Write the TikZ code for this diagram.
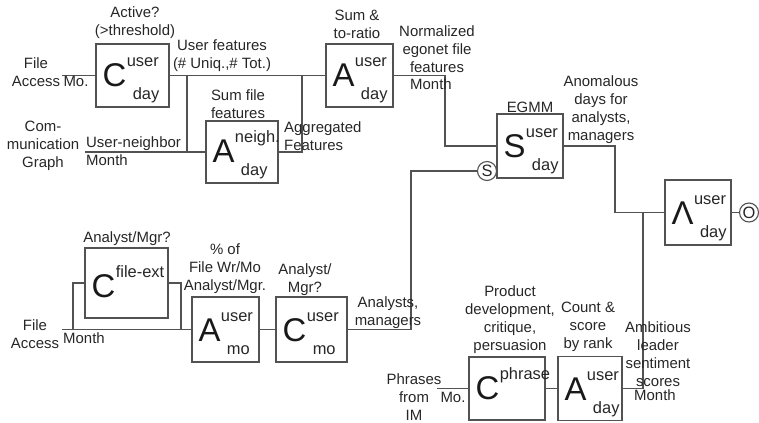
\documentclass[tikz,border=0pt]{standalone}
\usepackage{fontspec}
\setmainfont{Liberation Sans}
\newcommand{\bxt}[4]{%
  \node[bigl, anchor=base west] (#1L) at ([xshift=7bp,yshift=21bp]#1.south west) {#2};
  \node[sml, anchor=base west] at ([yshift=20bp]#1L.base east) {#3};
  \node[sml, anchor=base west] at ([xshift=6bp,yshift=-13bp]#1L.base east) {#4};}
\begin{document}
\begin{tikzpicture}[x=1bp,y=-1bp,
  ln/.style={draw=black!68, line width=1.1bp},
  blk/.style={draw=black!68, line width=1.1bp, inner sep=0pt},
  bigl/.style={font=\fontsize{33}{35}\selectfont, inner sep=0pt, text=black!90},
  sml/.style={font=\fontsize{16.5}{18}\selectfont, inner sep=0pt, text=black!85},
  lbl/.style={font=\fontsize{15}{18}\selectfont, align=center, inner sep=0pt, text=black!85},
  circ/.style={circle, draw=black!68, line width=1.1bp, inner sep=0pt, minimum size=19bp, font=\fontsize{16.5}{17}\selectfont, text=black!85}]
\useasboundingbox (0,0) rectangle (759,422);

% boxes
\node[blk, minimum width=73bp, minimum height=63bp] (c1) at (132.5,75.5) {};
\node[blk, minimum width=72bp, minimum height=62bp] (an) at (242,152) {};
\node[blk, minimum width=67bp, minimum height=63bp] (au) at (359.5,75.5) {};
\node[blk, minimum width=66bp, minimum height=64bp] (s) at (530,146) {};
\node[blk, minimum width=66bp, minimum height=65bp] (lam) at (698,212.5) {};
\node[blk, minimum width=83bp, minimum height=70bp] (cfe) at (126.5,283) {};
\node[blk, minimum width=67bp, minimum height=65bp] (amo) at (225.5,329.5) {};
\node[blk, minimum width=71bp, minimum height=65bp] (cmo) at (311.5,329.5) {};
\node[blk, minimum width=76bp, minimum height=63bp] (cph) at (507,388.5) {};
\node[blk, minimum width=64bp, minimum height=64bp] (ad) at (590,388.5) {};

\bxt{c1}{C}{user}{day}
\bxt{an}{A}{neigh.}{day}
\bxt{au}{A}{user}{day}
\bxt{s}{S}{user}{day}
\bxt{lam}{Λ}{user}{day}
\bxt{cfe}{C}{file-ext}{}
\bxt{amo}{A}{user}{mo}
\bxt{cmo}{C}{user}{mo}
\bxt{cph}{C}{phrase}{}
\bxt{ad}{A}{user}{day}

% circles
\node[circ] (sc) at (487,171) {S};
\node[circ] (oc) at (749,212.5) {O};

% coordinates
\coordinate (fa1) at (62,75.5);
\coordinate (j1) at (187,75.5);
\coordinate (cg) at (85,152);
\coordinate (j2) at (302,75.5);
\coordinate (k1) at (445,110);
\coordinate (t1) at (411,250);
\coordinate (t2) at (615,180);
\coordinate (t3) at (643,212.5);
\coordinate (fa2) at (62,329.5);
\coordinate (b1) at (73,329.5);
\coordinate (b2) at (181,329.5);
\coordinate (ph) at (437,388.5);

% connectors
\draw[ln] (fa1) -- (c1.west);
\draw[ln] (c1.east) -- (au.west);
\draw[ln] (j1) -- (j1 |- an.west);
\draw[ln] (cg) -- (an.west);
\draw[ln] (an.east) -| (j2);
\draw[ln] (au.east) -| (k1) |- (s.west);
\draw[ln] (sc.west) -| (t1) |- (cmo.east);
\draw[ln] (s.east) -| (t2) |- (lam.west);
\draw[ln] (ad.east) -| (t3);
\draw[ln] (lam.east) -- (oc.west);
\draw[ln] (fa2) -- (amo.west);
\draw[ln] (b1) |- (cfe.west);
\draw[ln] (cfe.east) -| (b2);
\draw[ln] (amo.east) -- (cmo.west);
\draw[ln] (ph) -- (cph.west);
\draw[ln] (cph.east) -- (ad.west);

% labels
\node[lbl] at (135,23) {Active?\\(>threshold)};
\node[lbl] at (36,72) {File\\Access};
\node[lbl] at (76,81) {Mo.};
\node[lbl] at (222,56) {User features\\(\# Uniq.,\# Tot.)};
\node[lbl] at (238,104) {Sum file\\features};
\node[lbl] at (43,146) {Com-\\munication\\Graph};
\node[lbl, anchor=west] at (86,144) {User-neighbor};
\node[lbl, anchor=west] at (86,160) {Month};
\node[lbl, align=left, anchor=west] at (284,136) {Aggregated\\Features};
\node[lbl] at (357,24) {Sum \&\\to-ratio};
\node[lbl] at (437,49) {Normalized\\egonet file\\features};
\node[lbl] at (431,84) {Month};
\node[lbl] at (530,107) {EGMM};
\node[lbl] at (601,110) {Anomalous\\days for\\analysts,\\managers};
\node[lbl] at (127,239) {Analyst/Mgr?};
\node[lbl] at (35,334) {File\\Access};
\node[lbl] at (84,338) {Month};
\node[lbl] at (225,269) {\% of\\File Wr/Mo\\Analyst/Mgr.};
\node[lbl] at (305,280) {Analyst/\\Mgr?};
\node[lbl] at (388,313) {Analysts,\\managers};
\node[lbl] at (414,397) {Phrases\\from\\IM};
\node[lbl] at (453,397) {Mo.};
\node[lbl] at (510,320) {Product\\development,\\critique,\\persuasion};
\node[lbl] at (588,327) {Count \&\\score\\by rank};
\node[lbl] at (658,354) {Ambitious\\leader\\sentiment\\scores};
\node[lbl] at (655,395) {Month};
\end{tikzpicture}
\end{document}
